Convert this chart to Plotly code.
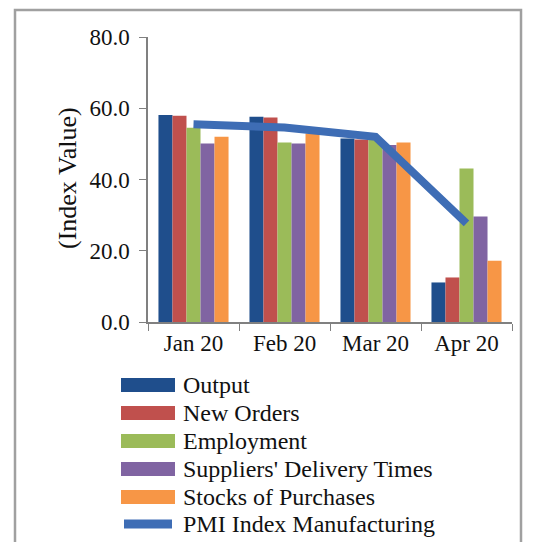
import plotly.graph_objects as go

months = ["Jan 20", "Feb 20", "Mar 20", "Apr 20"]
output = [58.1, 57.6, 51.5, 11.1]
new_orders = [57.9, 57.4, 51.2, 12.5]
employment = [54.5, 50.4, 51.1, 43.1]
suppliers = [50.1, 50.1, 49.7, 29.6]
stocks = [52.0, 52.9, 50.4, 17.2]
pmi = [55.5, 54.6, 52.0, 27.7]

series = [
    ("Output", output, "#1F4E8C"),
    ("New Orders", new_orders, "#C0504D"),
    ("Employment", employment, "#9BBB59"),
    ("Suppliers' Delivery Times", suppliers, "#8064A2"),
    ("Stocks of Purchases", stocks, "#F79646"),
]
line_color = "#3E6DB5"
FONT = "Liberation Serif, Times New Roman, serif"

OFF = 8  # page body margin
W, H = 533 - OFF, 550 - 2 * OFF
# target screen positions of the plot area
SX0, SX1, SY0, SY1 = 148, 512, 37, 322
L, R, T, B = SX0 - OFF, W - (SX1 - OFF), SY0 - OFF, H - (SY1 - OFF)
PW, PH = W - L - R, H - T - B

def px(x):
    return (x - SX0) / PW

def py(y):
    return (SY1 - y) / PH

fig = go.Figure()
for name, vals, col in series:
    fig.add_trace(go.Bar(x=months, y=vals, name=name, marker_color=col,
                         marker_line_width=0, showlegend=False))
fig.add_trace(go.Scatter(x=months, y=pmi, mode="lines", name="PMI Index Manufacturing",
                         line=dict(color=line_color, width=8), showlegend=False))

shapes = []
annotations = []
# outer frame
shapes.append(dict(type="rect", xref="paper", yref="paper",
                   x0=px(15), x1=px(521), y0=py(10), y1=py(600),
                   line=dict(color="#A0A0A0", width=2.5), layer="below"))
# custom legend
rows = [385, 413, 441, 469, 497, 524]
labels = [s[0] for s in series] + ["PMI Index Manufacturing"]
for i, (lab, yc) in enumerate(zip(labels, rows)):
    if i < len(series):
        shapes.append(dict(type="rect", xref="paper", yref="paper",
                           x0=px(121), x1=px(175), y0=py(yc - 7), y1=py(yc + 7),
                           fillcolor=series[i][2], line=dict(width=0)))
    else:
        shapes.append(dict(type="line", xref="paper", yref="paper",
                           x0=px(124), x1=px(172), y0=py(yc), y1=py(yc),
                           line=dict(color=line_color, width=9)))
    annotations.append(dict(text=lab, xref="paper", yref="paper", x=px(181), y=py(yc),
                            xanchor="left", yanchor="middle", showarrow=False,
                            font=dict(family=FONT, size=24, color="#111")))
# y-axis title
annotations.append(dict(text="(Index Value)", xref="paper", yref="paper",
                        x=px(67), y=py(178), textangle=-90, showarrow=False,
                        xanchor="center", yanchor="middle",
                        font=dict(family=FONT, size=26, color="#111")))

fig.update_layout(
    width=W, height=H,
    margin=dict(l=L, r=R, t=T, b=B),
    paper_bgcolor="white", plot_bgcolor="white",
    barmode="group", bargap=0.23, bargroupgap=0,
    font=dict(family=FONT, size=23, color="#111"),
    shapes=shapes, annotations=annotations,
    showlegend=False,
    xaxis=dict(showline=True, linecolor="#808080", linewidth=1.5,
               ticks="outside", tickson="boundaries", ticklen=7, tickcolor="#808080",
               showgrid=False, tickfont=dict(size=23, family=FONT)),
    yaxis=dict(range=[0, 80], tickvals=[0, 20, 40, 60, 80],
               ticktext=["0.0", "20.0", "40.0", "60.0", "80.0"],
               showline=True, linecolor="#808080", linewidth=1.5,
               ticks="outside", ticklen=7, tickcolor="#808080",
               ticklabelstandoff=5,
               showgrid=False, zeroline=False,
               tickfont=dict(size=23, family=FONT)),
)
fig.write_html("out.html")
